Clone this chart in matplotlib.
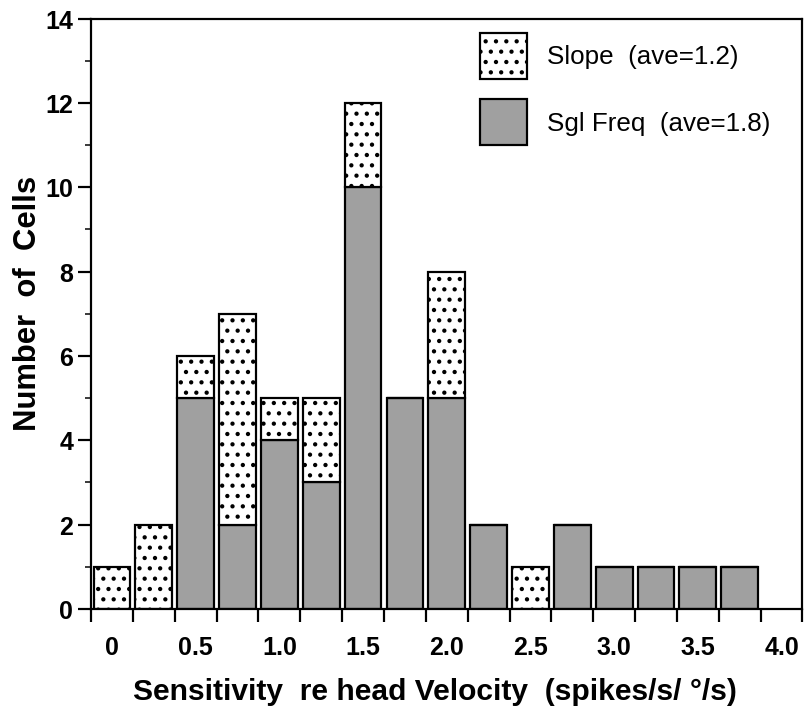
import numpy as np
import matplotlib
matplotlib.use("Agg")
import matplotlib.pyplot as plt
from matplotlib.ticker import NullFormatter

DPI = 62

# bar centres (bins of 0.25)
centers = [0.0, 0.25, 0.5, 0.75, 1.0, 1.25, 1.5, 1.75,
           2.0, 2.25, 2.5, 2.75, 3.0, 3.25, 3.5, 3.75]
sgl_freq = [0, 0, 5, 2, 4, 3, 10, 5, 5, 2, 0, 2, 1, 1, 1, 1]
slope = [1, 2, 1, 5, 1, 2, 2, 0, 3, 0, 1, 0, 0, 0, 0, 0]

x_label_pos = [0.0, 0.5, 1.0, 1.5, 2.0, 2.5, 3.0, 3.5, 4.0]
x_labels = ["0", "0.5", "1.0", "1.5", "2.0", "2.5", "3.0", "3.5", "4.0"]
y_major = [0, 2, 4, 6, 8, 10, 12, 14]
y_minor = [1, 3, 5, 7, 9, 11, 13]

legend_labels = ["Slope  (ave=1.2)", "Sgl Freq  (ave=1.8)"]


def px(v):
    # pixel size -> points at this dpi
    return v * 72 / DPI


plt.rcParams["font.family"] = ["Liberation Sans", "DejaVu Sans"]
plt.rcParams["hatch.linewidth"] = px(2.2)
plt.rcParams["hatch.color"] = "black"

fig = plt.figure(figsize=(806.5 / DPI, 728.5 / DPI), dpi=DPI)
ax = fig.add_axes([91 / 806, (728 - 609) / 728, (802 - 91) / 806, (609 - 19) / 728])

bar_w = 0.22
freq_bars = ax.bar(centers, sgl_freq, width=bar_w, color="#a0a0a0",
                   edgecolor="black", linewidth=px(2.2))
slope_bars = ax.bar(centers, slope, bottom=sgl_freq, width=bar_w, color="white",
                    edgecolor="black", linewidth=px(2.2), hatch=".")

ax.set_xlim(-0.125, 4.125)
ax.set_ylim(0, 14)

for s in ax.spines.values():
    s.set_linewidth(px(2.2))

# y axis
ax.set_yticks(y_major, [str(v) for v in y_major], fontweight="bold", fontsize=px(25))
ax.set_yticks(y_minor, minor=True)
ax.tick_params(axis="y", which="major", direction="out", length=px(13),
               width=px(2.2), pad=px(5))
ax.tick_params(axis="y", which="minor", direction="out", length=px(6), width=px(1.5))

# x axis: ticks on bin edges, labels under bar centres
edges = np.array(centers + [4.0]) - 0.125
edges = np.append(edges, 4.125)
ax.set_xticks(edges)
ax.xaxis.set_major_formatter(NullFormatter())
ax.set_xticks(x_label_pos, x_labels, minor=True, fontweight="bold", fontsize=px(25))
ax.tick_params(axis="x", which="major", direction="out", length=px(13), width=px(2.2))
ax.tick_params(axis="x", which="minor", length=0, pad=px(27))

ax.set_ylabel("Number  of  Cells", fontsize=px(31), fontweight="bold")
ax.yaxis.set_label_coords(-0.068, 0.519)
ax.set_xlabel("Sensitivity  re head Velocity  (spikes/s/ °/s)", fontsize=px(30),
              fontweight="bold")
ax.xaxis.set_label_coords(0.484, -0.117)

ax.legend([slope_bars, freq_bars], legend_labels, fontsize=px(26), frameon=False,
          loc="upper left", bbox_to_anchor=((480 - 91) / 711, (609 - 33) / 590),
          borderpad=0, borderaxespad=0, handlelength=1.8, handleheight=2.35,
          handletextpad=0.77, labelspacing=0.8)

plt.savefig("out.png", dpi=DPI)
